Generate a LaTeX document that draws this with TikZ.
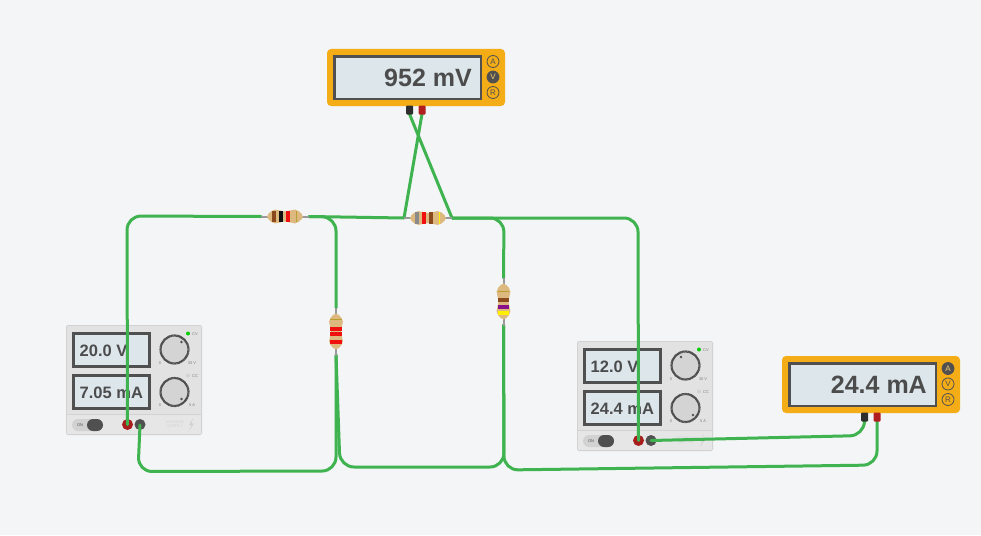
\documentclass[tikz,border=0pt]{standalone}
\usepackage{fontspec}
\setmainfont{Liberation Sans}
\definecolor{bg}{HTML}{F3F5F7}
\definecolor{wire}{HTML}{3FB34F}
\definecolor{amber}{HTML}{F4AD16}
\definecolor{screen}{HTML}{DCE6EB}
\definecolor{ink}{HTML}{4C4C4C}
\definecolor{case}{HTML}{E2E2E2}
\definecolor{caseedge}{HTML}{D2D2D2}
\definecolor{strip}{HTML}{E6E6E6}
\definecolor{knob}{HTML}{D4D4D4}
\definecolor{dark}{HTML}{505050}
\definecolor{termred}{HTML}{A81C1C}
\definecolor{plugred}{HTML}{B01E1E}
\definecolor{plugblack}{HTML}{2E2E2E}
\definecolor{body}{HTML}{DDB97F}
\definecolor{lead}{HTML}{9A9A9A}
\definecolor{bbrown}{HTML}{8B4A1E}
\definecolor{bblack}{HTML}{111111}
\definecolor{bred}{HTML}{F01010}
\definecolor{bgray}{HTML}{8A8A8A}
\definecolor{bpurple}{HTML}{8A0F8A}
\definecolor{byellow}{HTML}{FFF000}
\definecolor{bgold}{HTML}{B8A030}
\definecolor{faint}{HTML}{D2D2D2}
\tikzset{
  wirepath/.style={draw=wire,line width=3pt,rounded corners=14pt,line cap=round,line join=round},
  amberbox/.style={draw=none,fill=amber,rounded corners=4pt},
  lcd/.style={draw=dark,line width=2.5pt,fill=screen},
  psulcd/.style={draw=dark,line width=3pt,fill=screen},
  bigread/.style={inner sep=0pt,anchor=east,text=ink,font=\fontsize{25}{25}\selectfont\bfseries},
  smallread/.style={inner sep=0pt,anchor=west,text=ink,font=\fontsize{16.5}{16.5}\selectfont\bfseries},
  modeon/.style={circle,draw=dark,line width=0.8pt,fill=dark,minimum size=12pt,inner sep=0pt,text=amber!60!white,font=\fontsize{8}{8}\selectfont},
  modeoff/.style={circle,draw=dark,line width=0.8pt,fill=none,minimum size=12pt,inner sep=0pt,text=dark,font=\fontsize{8}{8}\selectfont},
  tiny/.style={inner sep=0pt,text=#1,font=\fontsize{4}{4.4}\selectfont,align=center},
  tiny/.default=gray,
  terminal/.style={circle,minimum size=11pt,inner sep=0pt,draw=none,fill=#1},
  knobdial/.style={circle,minimum size=28pt,inner sep=0pt,fill=knob,draw=dark,line width=2.2pt,dash pattern=on 1pt off 0.35pt},
  plugbody/.style={draw=none,fill=#1,minimum width=7pt,minimum height=9pt,inner sep=0pt,rounded corners=1pt}
}
% name, x, y, volts, amps, volt dot, amp dot
\newcommand{\mypsu}[7]{%
\begin{scope}[shift={(#2,#3)}]
  \fill[caseedge,rounded corners=2pt] (0,0) rectangle (136,110);
  \fill[case] (1,1) rectangle (135,89);
  \fill[strip] (1,90) rectangle (135,109);
  \draw[psulcd] (7.5,8.5) rectangle (83.5,41.5);
  \draw[psulcd] (7.5,50) rectangle (83.5,83);
  \node[smallread] (#1v) at (13.5,25.5) {#4};
  \node[smallread] (#1i) at (13.5,67.5) {#5};
  \node[knobdial] (#1ka) at (108.5,24.5) {};
  \node[knobdial] (#1kb) at (108.5,67) {};
  \fill[dark] #6 circle (1.3);
  \fill[dark] #7 circle (1.3);
  \fill[green!80!black] (122,8.5) circle (2);
  \fill[faint] (122,50.5) circle (2);
  \node[tiny] (#1cv) at (129,9) {CV};
  \node[tiny] (#1cc) at (129,51) {CC};
  \node[tiny] (#1za) at (94,38.5) {0};
  \node[tiny] (#1zb) at (94,80.5) {0};
  \node[tiny] (#1ma) at (126,38.5) {30 V};
  \node[tiny] (#1mb) at (126,80.5) {5 A};
  \fill[faint,rounded corners=6pt] (6,94) rectangle (37,106);
  \fill[dark,rounded corners=6pt] (21,94) rectangle (37,106);
  \node[tiny=dark] (#1on) at (14,100) {ON};
  \node[terminal=termred] (#1p) at (61.5,99.5) {};
  \node[terminal=dark] (#1n) at (74,99.5) {};
  \node[tiny=faint] (#1lab) at (109,99) {VOLTAGE\\SUPPLY};
  \fill[faint] (127,93) -- (123,100) -- (125.5,100) -- (123,106) -- (128,98.5) -- (125.5,98.5) -- cycle;
\end{scope}}
% name, x, y, reading, active mode 1,2,3 styles
\newcommand{\mymeter}[7]{%
\begin{scope}[shift={(#2,#3)}]
  \fill[amberbox] (0,0) rectangle (178,57);
  \draw[lcd] (7.5,7.5) rectangle (154,50);
  \node[bigread] (#1r) at (145,28.5) {#4};
  \node[#5] (#1ma) at (166,12.5) {A};
  \node[#6] (#1mv) at (166,28) {V};
  \node[#7] (#1mo) at (166,43.5) {R};
  \node[plugbody=plugblack] (#1n) at (82.5,61) {};
  \node[plugbody=plugred] (#1p) at (95,61) {};
\end{scope}}
% name, x, y, rotation, bands
\newcommand{\myres}[5]{%
\begin{scope}[shift={(#2,#3)},rotate=#4]
  \draw[lead,line width=2pt] (-24,0) -- (24,0);
  \fill[body,rounded corners=2pt] (-18,-1.5) -- (-12,-6.8) -- (-7,-6.8) -- (-4,-5.2) -- (4,-5.2) -- (7,-6.8) -- (12,-6.8) -- (18,-1.5) -- (18,1.5) -- (12,6.8) -- (7,6.8) -- (4,5.2) -- (-4,5.2) -- (-7,6.8) -- (-12,6.8) -- (-18,1.5) -- cycle;
  \foreach \p/\c/\w in {#5} {
    \fill[\c] (\p-\w/2,-5.8) rectangle (\p+\w/2,5.8);
  }
  \coordinate (#1a) at (-24,0);
  \coordinate (#1b) at (24,0);
\end{scope}}
\begin{document}
\begin{tikzpicture}[x=1pt,y=-1pt]
\useasboundingbox (0,0) rectangle (981,535);
\fill[bg] (0,0) rectangle (981,535);

\mypsu{pa}{66}{325}{20.0 V}{7.05 mA}{(115.5,17)}{(115.5,74)}
\mypsu{pb}{577}{341}{12.0 V}{24.4 mA}{(104,16)}{(116,74)}

\coordinate (ra) at (261,216.5);
\coordinate (rb) at (309,216.5);
\coordinate (sa) at (404,218);
\coordinate (sb) at (452,218);
\coordinate (ta) at (336,308);
\coordinate (tb) at (336,355);
\coordinate (ua) at (503.5,278);
\coordinate (ub) at (503.5,325);
\coordinate (vn) at (409.5,114);
\coordinate (vp) at (422,114);
\coordinate (an) at (864.5,421);
\coordinate (ap) at (877,421);

% wires
\draw[wirepath] (127.5,424.5) -- (127,216) -- (ra);
\draw[wirepath] (rb) -- (336,217) -- (ta);
\draw[wirepath] (rb) -- (sa);
\draw[wirepath] (sb) -- (638,218) -- (638.5,440.5);
\draw[wirepath] (sb) -- (504,218) -- (ua);
\draw[wirepath] (sb) -- (vn);
\draw[wirepath] (sa) -- (vp);
\draw[wirepath] (tb) -- (336,471) -- (138,471.5) -- (140,425);
\draw[wirepath] (tb) -- (340,467) -- (504,467) -- (ub);
\draw[wirepath] (ub) -- (504,470) -- (877,465) -- (ap);
\draw[wirepath] (651,440.5) -- (864,435.5) -- (an);

\myres{r1}{285}{216.5}{0}{-11/bbrown/4,-4/bblack/4,2.5/bred/4,11/bgold/1}
\myres{r2}{428}{218}{0}{-11/bgray/4,-4/bred/4,3/bbrown/4,11/byellow/1}
\myres{r3}{336}{331.5}{-90}{-12/bgold/1,-3/bred/4,2/bred/4,10/bred/4}
\myres{r4}{503.5}{301.5}{-90}{-10/bgold/1,-2/bbrown/4,5.5/bpurple/4,11.5/byellow/4}

\mymeter{vm}{327}{49}{952 mV}{modeoff}{modeon}{modeoff}
\mymeter{am}{782}{356}{24.4 mA}{modeon}{modeoff}{modeoff}
\end{tikzpicture}
\end{document}
